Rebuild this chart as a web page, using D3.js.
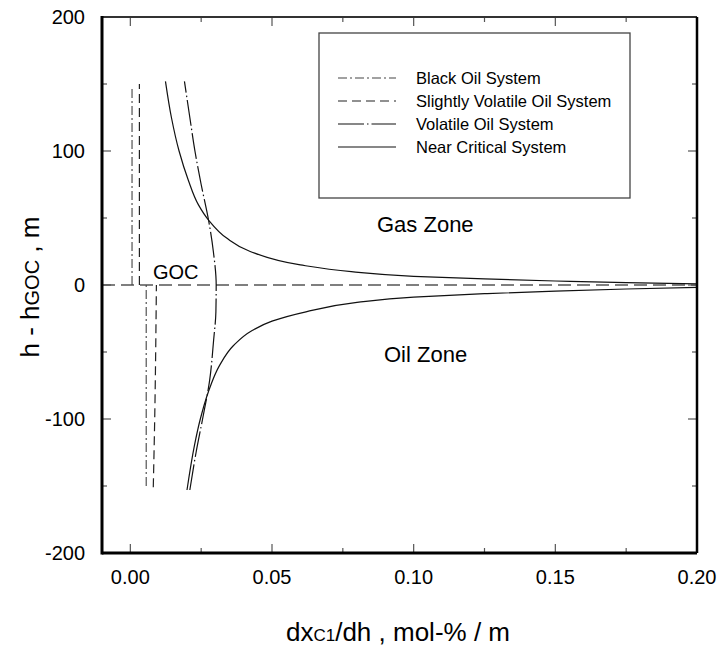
<!DOCTYPE html>
<html><head><meta charset="utf-8">
<script src="https://cdn.jsdelivr.net/npm/d3@7"></script>
<style>body{margin:0;background:#fff}svg{display:block}text{font-family:"Liberation Sans",Arial,sans-serif}</style>
</head><body>
<svg id="c" width="720" height="648"></svg>
<script>
// data: [dx/dh (mol-%/m), h - hGOC (m)]
const blackOilUpper = [[0.0006, 0], [0.0006, 147]];
const blackOilLower = [[0.0056, -150], [0.0056, 0]];
const slightlyUpper = [[0.0032, 0], [0.0032, 150]];
const slightlyLower = [[0.0081, -151], [0.0086, -100], [0.0092, 0]];
const volatileOil = [[0.0210, -153], [0.0232, -125], [0.0255, -100], [0.0280, -71], [0.0294, -41], [0.0302, -20], [0.0303, 0], [0.0293, 25], [0.0276, 48.5], [0.0250, 75], [0.0228, 100], [0.0210, 125], [0.0191, 152]];
const nearCriticalUpper = [[0.20, 0.8], [0.175, 1.7], [0.15, 3], [0.125, 4.5], [0.10, 6.5], [0.078, 10], [0.060, 15], [0.0423, 25], [0.034, 35], [0.0276, 48.5], [0.024, 60], [0.0205, 78], [0.0172, 100], [0.0145, 125], [0.0124, 152]];
const nearCriticalLower = [[0.0200, -153], [0.0226, -120], [0.0247, -100], [0.0275, -80], [0.0315, -60], [0.0365, -45], [0.0430, -34], [0.050, -27], [0.062, -20], [0.080, -13], [0.10, -9], [0.125, -6.5], [0.15, -4.5], [0.175, -3], [0.20, -1.7]];
const xTicks = [0, 0.05, 0.10, 0.15, 0.20];
const xMinor = [0.025, 0.075, 0.125, 0.175];
const yTicks = [-200, -100, 0, 100, 200];
const yMinor = [-150, -50, 50, 150];
const legendNames = ["Black Oil System", "Slightly Volatile Oil System", "Volatile Oil System", "Near Critical System"];

const svg = d3.select("#c");
const L = 102, R = 697, T = 17, B = 553;
const x = d3.scaleLinear().domain([-0.01, 0.20]).range([L, R]);
const y = d3.scaleLinear().domain([-200, 200]).range([B, T]);

const styles = {
  black: {dash: "9,3,2,3", w: 1.1, c: "#444"},
  slight: {dash: "9,5", w: 1.2, c: "#222"},
  vol: {dash: "26,3,1.5,3", w: 1.2, c: "#111"},
  near: {dash: null, w: 1.2, c: "#111"}
};

// zero line
svg.append("line").attr("x1", L).attr("x2", R).attr("y1", y(0)).attr("y2", y(0))
  .attr("stroke", "#555").attr("stroke-width", 1.6).attr("stroke-dasharray", "13,6");

const line = d3.line().x(d => x(d[0])).y(d => y(d[1])).curve(d3.curveMonotoneY);
function draw(data, s) {
  const p = svg.append("path").datum(data.slice().sort((a, b) => a[1] - b[1])).attr("d", line).attr("fill", "none")
    .attr("stroke", s.c).attr("stroke-width", s.w);
  if (s.dash) p.attr("stroke-dasharray", s.dash);
}
draw(blackOilUpper, styles.black);
draw(blackOilLower, styles.black);
draw(slightlyUpper, styles.slight);
draw(slightlyLower, styles.slight);
draw(volatileOil, styles.vol);
draw(nearCriticalUpper, styles.near);
draw(nearCriticalLower, styles.near);

// axes (ticks inward on all sides)
const g = svg.append("g");
function ticks(vals, len) {
  vals.forEach(v => {
    g.append("line").attr("x1", x(v)).attr("x2", x(v)).attr("y1", B).attr("y2", B - len).attr("stroke", "#555").attr("stroke-width", 1.2);
    g.append("line").attr("x1", x(v)).attr("x2", x(v)).attr("y1", T).attr("y2", T + len).attr("stroke", "#555").attr("stroke-width", 1.2);
  });
}
function yticks(vals, len) {
  vals.forEach(v => {
    g.append("line").attr("y1", y(v)).attr("y2", y(v)).attr("x1", L).attr("x2", L + len).attr("stroke", "#555").attr("stroke-width", 1.2);
    g.append("line").attr("y1", y(v)).attr("y2", y(v)).attr("x1", R).attr("x2", R - len).attr("stroke", "#555").attr("stroke-width", 1.2);
  });
}
ticks(xTicks.slice(0, -1), 9);
ticks(xMinor, 5);
yticks(yTicks.slice(1, -1), 9);
yticks(yMinor, 5);

// frame
svg.append("line").attr("x1", L).attr("x2", R).attr("y1", T).attr("y2", T).attr("stroke", "#333").attr("stroke-width", 2);
svg.append("line").attr("x1", R).attr("x2", R).attr("y1", T).attr("y2", B).attr("stroke", "#000").attr("stroke-width", 2.5);
svg.append("line").attr("x1", L).attr("x2", R).attr("y1", B).attr("y2", B).attr("stroke", "#000").attr("stroke-width", 3);
svg.append("line").attr("x1", L).attr("x2", L).attr("y1", T - 1).attr("y2", B + 1.5).attr("stroke", "#000").attr("stroke-width", 3);

// tick labels
const fmt = d3.format(".2f");
xTicks.forEach(v => svg.append("text").attr("x", x(v)).attr("y", 584).attr("text-anchor", "middle")
  .attr("font-size", 20).text(fmt(v)));
yTicks.forEach(v => svg.append("text").attr("x", 85).attr("y", y(v) + 7).attr("text-anchor", "end")
  .attr("font-size", 20).text(v));

// axis titles
const xt = svg.append("text").attr("x", 398).attr("y", 641).attr("text-anchor", "middle").attr("font-size", 26);
xt.append("tspan").text("dx");
xt.append("tspan").attr("font-size", 17).text("C1");
xt.append("tspan").text("/dh , mol-% / m");
const yt = svg.append("text").attr("transform", "translate(39,287) rotate(-90)").attr("text-anchor", "middle").attr("font-size", 26);
yt.append("tspan").text("h - h");
yt.append("tspan").attr("font-size", 20).text("GOC");
yt.append("tspan").text(" , m");

// annotations
svg.append("text").attr("x", 153).attr("y", 279).attr("font-size", 20).text("GOC");
svg.append("text").attr("x", 377).attr("y", 232).attr("font-size", 22).text("Gas Zone");
svg.append("text").attr("x", 384).attr("y", 362).attr("font-size", 22).text("Oil Zone");

// legend
svg.append("rect").attr("x", 319).attr("y", 33).attr("width", 311).attr("height", 165)
  .attr("fill", "#fff").attr("stroke", "#444").attr("stroke-width", 1.3);
const legStyles = [styles.black, styles.slight, styles.vol, styles.near];
legendNames.forEach((n, i) => {
  const yy = 78 + i * 23;
  const l = svg.append("line").attr("x1", 338).attr("x2", 396).attr("y1", yy).attr("y2", yy)
    .attr("stroke", legStyles[i].c).attr("stroke-width", legStyles[i].w);
  if (legStyles[i].dash) l.attr("stroke-dasharray", legStyles[i].dash);
  svg.append("text").attr("x", 416).attr("y", yy + 6).attr("font-size", 16.5).text(n);
});
</script>
</body></html>
